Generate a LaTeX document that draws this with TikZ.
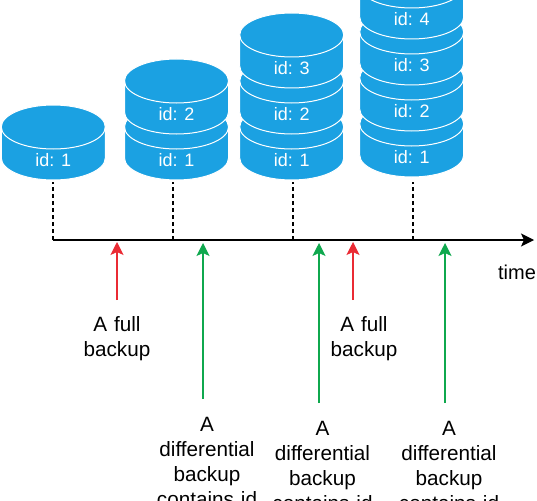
\documentclass[tikz,border=0pt]{standalone}
\usepackage{fontspec}
\setmainfont{Liberation Sans}
\usetikzlibrary{arrows.meta}
\definecolor{diskblue}{HTML}{1BA1E2}
\definecolor{fullred}{HTML}{EA2B34}
\definecolor{diffgreen}{HTML}{0FA84E}
\tikzset{
	idtext/.style={text=white, inner sep=0pt, font=\fontsize{18}{21}\selectfont},
	pics/disk/.style={code={
		\draw[fill=diskblue, draw=white, line width=1pt] (-52,-15.5) -- (-52,15.5)
			arc[start angle=180, delta angle=-180, x radius=52, y radius=22] -- (52,-15.5)
			arc[start angle=0, delta angle=-180, x radius=52, y radius=22] -- cycle;
		\draw[draw=white, line width=1pt] (-52,-15.5)
			arc[start angle=180, delta angle=-180, x radius=52, y radius=22];
		\node[idtext] (-id) at (0,17.5) {id: #1};
		\coordinate (-base) at (0,39);
	}},
	caption/.style={align=center, text width=110pt, inner xsep=0pt, anchor=north,
		font=\fontsize{20.7}{25}\selectfont},
	fullcap/.style={caption, inner ysep=16pt},
	diffcap/.style={caption, inner ysep=18pt},
	fullarrow/.style={draw=fullred, line width=1.2pt, -{Stealth[length=13pt,width=13pt,inset=3pt]}},
	diffarrow/.style={draw=diffgreen, line width=1.2pt, -{Stealth[length=13pt,width=13pt,inset=3pt]}},
	timeline/.style={line width=1.3pt, -{Stealth[length=13pt,width=13pt,inset=3pt]}},
	drop/.style={line width=1.1pt, dash pattern=on 4pt off 3pt}
}
\begin{document}
\begin{tikzpicture}[x=1pt,y=-1pt]
	\clip (0,0) rectangle (537,500);

	% Disks
	\pic (d1)  at (53.3,142.5)  {disk=1};

	\pic (d2a) at (176.5,142.5) {disk=1};
	\pic (d2b) at (176.5,96.5)  {disk=2};

	\pic (d3a) at (291.7,142.5) {disk=1};
	\pic (d3b) at (291.7,96.5)  {disk=2};
	\pic (d3c) at (291.7,50.5)  {disk=3};

	\pic (d4a) at (411.7,139.5) {disk=1};
	\pic (d4b) at (411.7,93.5)  {disk=2};
	\pic (d4c) at (411.7,47.5)  {disk=3};
	\pic (d4d) at (411.7,1.5)   {disk=4};

	% Time axis
	\coordinate (t1) at (53,240);
	\coordinate (t2) at (173,240);
	\coordinate (t3) at (293,240);
	\coordinate (t4) at (413,240);
	\coordinate (tend) at (534,240);
	\draw[timeline] (t1) -- (tend);
	\node[font=\fontsize{20}{24}\selectfont, inner sep=0pt] (time) at (517,272) {time};

	% Connect the disks
	\draw[drop] (t1) -- (t1 |- d1-base);
	\draw[drop] (t2) -- (t2 |- d2a-base);
	\draw[drop] (t3) -- (t3 |- d3a-base);
	\draw[drop] (t4) -- (t4 |- d3a-base);

	% Captions
	\node[fullcap] (f1) at (117,300) {A full\\backup};
	\node[fullcap] (f2) at (364,300) {A full\\backup};
	\node[diffcap] (g1) at (207,399) {A\\differential\\backup\\contains id};
	\node[diffcap] (g2) at (322.5,403) {A\\differential\\backup\\contains id};
	\node[diffcap] (g3) at (449,403) {A\\differential\\backup\\contains id};

	% Arrows
	\coordinate (r1) at (117,242);
	\coordinate (r2) at (353,242);
	\coordinate (a1) at (203,243);
	\coordinate (a2) at (319,243);
	\coordinate (a3) at (445,243);
	\draw[fullarrow] (f1.north -| r1) -- (r1);
	\draw[fullarrow] (f2.north -| r2) -- (r2);
	\draw[diffarrow] (g1.north -| a1) -- (a1);
	\draw[diffarrow] (g2.north -| a2) -- (a2);
	\draw[diffarrow] (g3.north -| a3) -- (a3);
\end{tikzpicture}
\end{document}
